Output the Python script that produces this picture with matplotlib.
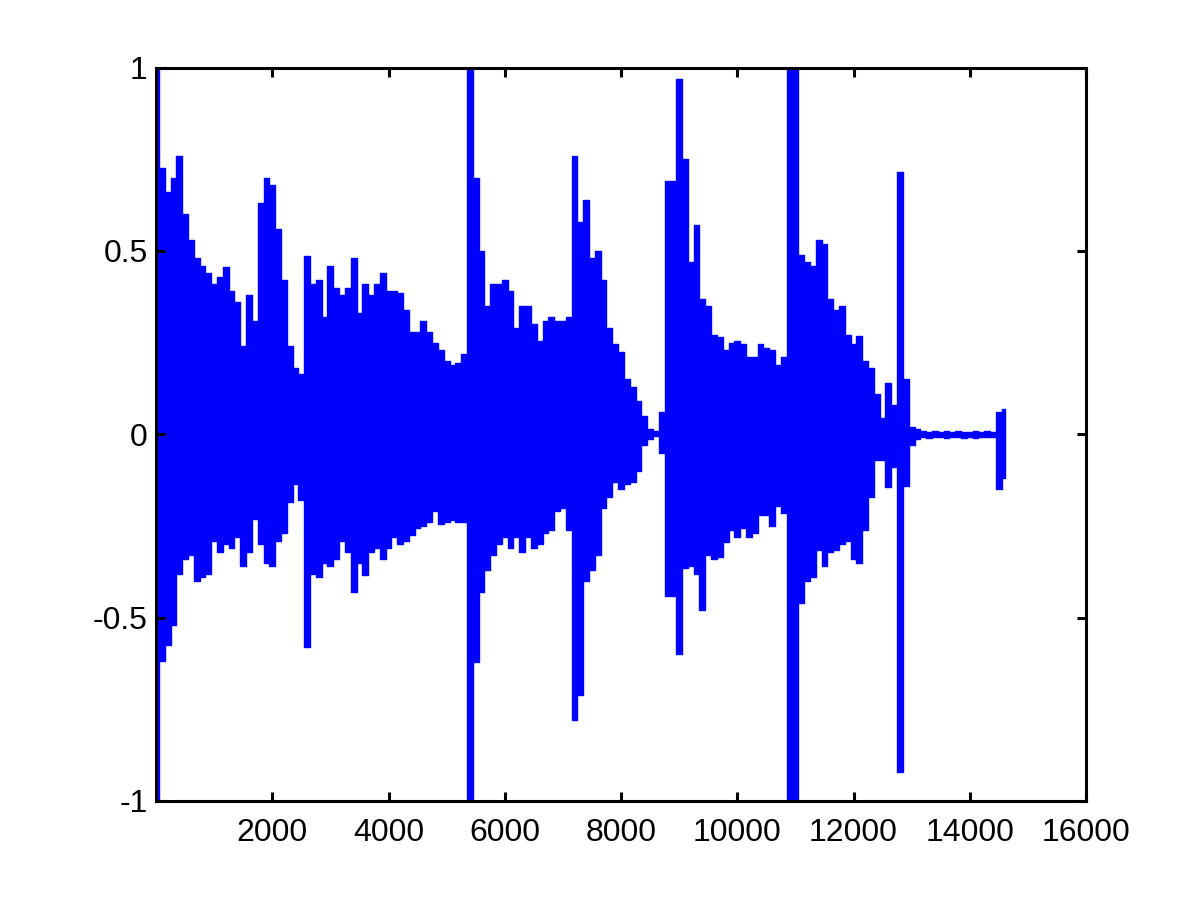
import numpy as np
import matplotlib
matplotlib.use('Agg')
from matplotlib import pyplot as plt

# envelope of the recording, every 100 samples
sample = np.arange(0, 14700, 100)

upper = [1.0, 0.725, 0.66, 0.70, 0.76, 0.60, 0.53, 0.48, 0.46, 0.44,
         0.41, 0.43, 0.455, 0.39, 0.36, 0.24, 0.38, 0.31, 0.63, 0.70,
         0.68, 0.56, 0.42, 0.24, 0.18, 0.165, 0.486, 0.41, 0.42, 0.32,
         0.46, 0.40, 0.38, 0.40, 0.48, 0.33, 0.41, 0.38, 0.41, 0.44,
         0.39, 0.39, 0.385, 0.34, 0.28, 0.28, 0.31, 0.28, 0.25, 0.23,
         0.20, 0.19, 0.195, 0.22, 1.0, 0.70, 0.50, 0.35, 0.41, 0.41,
         0.42, 0.39, 0.29, 0.35, 0.35, 0.30, 0.255, 0.31, 0.32, 0.31,
         0.31, 0.32, 0.76, 0.58, 0.64, 0.48, 0.50, 0.42, 0.29, 0.245,
         0.225, 0.15, 0.13, 0.09, 0.05, 0.013, 0.01, 0.06, 0.69, 0.69,
         0.97, 0.75, 0.47, 0.57, 0.37, 0.35, 0.27, 0.265, 0.23, 0.25,
         0.255, 0.245, 0.21, 0.21, 0.245, 0.235, 0.23, 0.19, 0.21, 1.0,
         1.0, 0.49, 0.47, 0.46, 0.53, 0.52, 0.37, 0.34, 0.35, 0.27,
         0.245, 0.267, 0.20, 0.18, 0.11, 0.045, 0.14, 0.08, 0.716, 0.15,
         0.02, 0.013, 0.008, 0.007, 0.008, 0.006, 0.008, 0.007, 0.008, 0.006,
         0.007, 0.008, 0.007, 0.008, 0.007, 0.06, 0.068]

lower = [-1.0, -0.619, -0.576, -0.52, -0.38, -0.34, -0.33, -0.40, -0.39, -0.38,
         -0.29, -0.32, -0.30, -0.31, -0.28, -0.36, -0.32, -0.23, -0.30, -0.35,
         -0.36, -0.29, -0.27, -0.185, -0.135, -0.18, -0.58, -0.38, -0.39, -0.35,
         -0.36, -0.34, -0.29, -0.32, -0.43, -0.35, -0.385, -0.32, -0.31, -0.34,
         -0.31, -0.28, -0.30, -0.29, -0.275, -0.255, -0.25, -0.24, -0.21, -0.245,
         -0.24, -0.235, -0.24, -0.24, -1.0, -0.62, -0.43, -0.37, -0.33, -0.30,
         -0.28, -0.31, -0.28, -0.32, -0.28, -0.31, -0.30, -0.27, -0.26, -0.21,
         -0.20, -0.26, -0.78, -0.71, -0.40, -0.37, -0.33, -0.20, -0.17, -0.13,
         -0.15, -0.135, -0.13, -0.10, -0.03, -0.013, -0.006, -0.05, -0.44, -0.44,
         -0.60, -0.365, -0.36, -0.38, -0.48, -0.33, -0.34, -0.335, -0.295, -0.26,
         -0.28, -0.255, -0.28, -0.27, -0.22, -0.22, -0.25, -0.195, -0.215, -1.0,
         -1.0, -0.46, -0.40, -0.39, -0.315, -0.36, -0.32, -0.315, -0.30, -0.29,
         -0.34, -0.35, -0.26, -0.17, -0.07, -0.07, -0.145, -0.09, -0.92, -0.14,
         -0.03, -0.013, -0.008, -0.009, -0.007, -0.008, -0.009, -0.008, -0.007, -0.009,
         -0.008, -0.009, -0.008, -0.007, -0.008, -0.15, -0.12]

xticks = [2000, 4000, 6000, 8000, 10000, 12000, 14000, 16000]
yticks = [-1, -0.5, 0, 0.5, 1]
ylabels = ['-1', '-0.5', '0', '0.5', '1']

plt.rcParams['font.family'] = ['Liberation Sans', 'DejaVu Sans']

fig = plt.figure(figsize=(12, 9), dpi=100)
ax = fig.add_axes([0.13, 0.11, 0.775, 0.815])
ax.fill_between(sample, lower, upper, step='mid', color='blue', lw=1)

ax.set_xlim(0, 16000)
ax.set_ylim(-1, 1)
ax.set_xticks(xticks)
ax.set_xticklabels([str(t) for t in xticks])
ax.set_yticks(yticks)
ax.set_yticklabels(ylabels)
ax.tick_params(direction='in', length=6.5, width=2.2, labelsize=23,
               top=True, right=True)
ax.tick_params(axis='x', pad=12)
ax.tick_params(axis='y', pad=6)
for s in ax.spines.values():
    s.set_linewidth(2.2)

fig.savefig('out.png', dpi=100)
